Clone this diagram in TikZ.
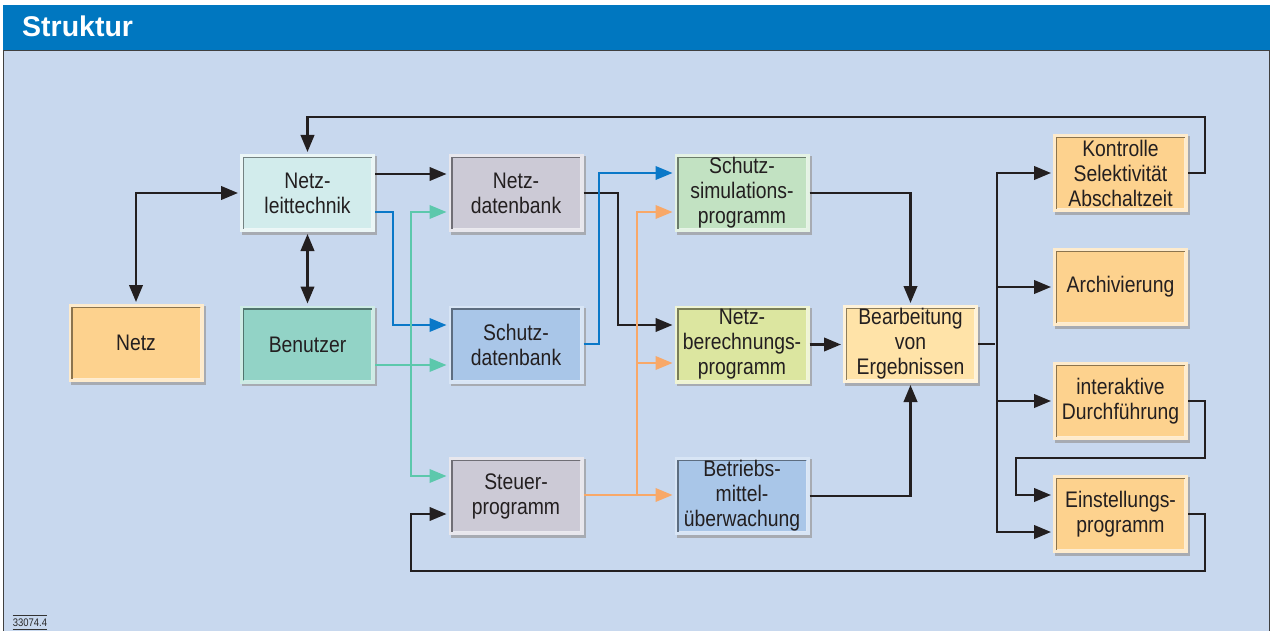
\documentclass[tikz,border=0pt]{standalone}
\usepackage{fontspec}
\setmainfont[FakeStretch=0.86]{Liberation Sans}
\newfontfamily\headfont{Liberation Sans}
\usetikzlibrary{arrows.meta,calc}
\definecolor{hdr}{HTML}{0077C0}
\definecolor{bgc}{HTML}{C8D8EE}
\definecolor{cOr}{HTML}{FDD28E}
\definecolor{cLo}{HTML}{FFE3A8}
\definecolor{cCy}{HTML}{D2ECEC}
\definecolor{cTe}{HTML}{92D3C6}
\definecolor{cGr}{HTML}{CCCAD6}
\definecolor{cBl}{HTML}{A9C6E8}
\definecolor{cGn}{HTML}{C2E2C2}
\definecolor{cYg}{HTML}{DCE6A0}
\definecolor{lBk}{HTML}{231F20}
\definecolor{lBl}{HTML}{0A78C8}
\definecolor{lTe}{HTML}{5CC8AC}
\definecolor{lOr}{HTML}{F8A868}
\tikzset{
  boxouter/.style={minimum width=135pt,minimum height=78pt,inner sep=0pt,outer sep=0pt},
  boxtext/.style={align=center,text=lBk,font=\fontsize{22.5}{25}\selectfont},
  conn/.style={line width=2.4pt,line join=miter,shorten >=2pt,>={Triangle[length=17pt,width=13.5pt]}},
  bk/.style={conn,draw=lBk},
  bl/.style={conn,draw=lBl,line width=2.1pt},
  tl/.style={conn,draw=lTe,line width=2.1pt},
  og/.style={conn,draw=lOr,line width=2.1pt},
}
\newcommand\bx[5]{%
  \fill[black!40,opacity=0.7] (#2-65.5,#3-37) rectangle (#2+69.5,#3+41.5);
  \node[boxouter,fill=#4!45!white] (#1) at (#2,#3) {};
  \fill[#4] ([shift={(3,3)}]#1.north west) rectangle ([shift={(-3,-3)}]#1.south east);
  \draw[#4!40!white,line width=1pt] ([shift={(3.5,-3.5)}]#1.south west) -| ([shift={(-3.5,3.5)}]#1.north east);
  \draw[#4!55!black,line width=1.2pt] ([shift={(3.5,-3.5)}]#1.south west) |- ([shift={(-3.5,3.5)}]#1.north east);
  \node[boxtext] at (#1) {#5};
}
\begin{document}
\begin{tikzpicture}[x=1pt,y=-1pt]
\useasboundingbox (0,0) rectangle (1273,631);
\fill[white] (0,0) rectangle (1273,631);
\fill[hdr] (3,5) rectangle (1270,51);
\fill[bgc] (3,51) rectangle (1270,631);
\draw[black!75,line width=1pt] (3.5,631) -- (3.5,51) -- (1269.5,51) -- (1269.5,631);
\node[anchor=base west,text=white,font=\headfont\bfseries\fontsize{28.5}{30}\selectfont,inner sep=0pt] (title) at (22,37) {Struktur};

\bx{Netz}{136}{343}{cOr}{Netz}
\bx{NLT}{307.5}{193}{cCy}{Netz-\\leittechnik}
\bx{Ben}{307.5}{344.5}{cTe}{Benutzer}
\bx{NDB}{516}{193}{cGr}{Netz-\\datenbank}
\bx{SDB}{516}{344.5}{cBl}{Schutz-\\datenbank}
\bx{STP}{516}{496}{cGr}{Steuer-\\programm}
\bx{SSP}{742}{193}{cGn}{Schutz-\\simulations-\\programm}
\bx{NBP}{742}{344.5}{cYg}{Netz-\\berechnungs-\\programm}
\bx{BMU}{742}{496}{cBl}{Betriebs-\\mittel-\\überwachung}
\bx{BvE}{910.5}{344}{cLo}{Bearbeitung\\von\\Ergebnissen}
\bx{KSA}{1120.5}{173}{cOr}{Kontrolle\\Selektivität\\Abschaltzeit}
\bx{ARC}{1120.5}{287}{cOr}{Archivierung}
\bx{IAD}{1120.5}{401}{cOr}{interaktive\\Durchführung}
\bx{EIN}{1120.5}{514}{cOr}{Einstellungs-\\programm}

% black connectors
\draw[bk,<->,shorten <=2pt] (Netz.north) |- (NLT.west);
\draw[bk,<->,shorten <=2pt] (NLT.south) -- (Ben.north);
\draw[bk,->] (NLT.east |- 0,174) -- (NDB.west |- 0,174);
\draw[bk,->] (NDB.east |- 0,193) -| (618,325) -- (NBP.west |- 0,325);
\draw[bk,->] (SSP.east) -| (BvE.north);
\draw[bk,->] (NBP.east) -- (BvE.west |- NBP.east);
\draw[bk,->] (BMU.east) -| (BvE.south);
\draw[bk] (BvE.east) -- (997,344);
\draw[bk,->] (997,344) |- (KSA.west);
\draw[bk,->] (997,344) |- (ARC.west);
\draw[bk,->] (997,344) |- (IAD.west);
\draw[bk,->] (997,344) |- (EIN.west |- 0,532);
\draw[bk,->] (KSA.east) -| (1205,117) -| (NLT.north);
\draw[bk,->] (IAD.east) -| (1205,458) -| (1016,495) -- (EIN.west |- 0,495);
\draw[bk,->] (EIN.east |- 0,514) -| (1205,571) -| (411,514) -- (STP.west |- 0,514);

% blue
\draw[bl,->] (NLT.east |- 0,212) -| (393,325) -- (SDB.west |- 0,325);
\draw[bl,->] (SDB.east |- 0,344) -| (599,173) -- (SSP.west |- 0,173);
% teal
\draw[tl,->] (Ben.east |- 0,365) -- (SDB.west |- 0,365);
\draw[tl,->] (411,365) |- (NDB.west |- 0,212);
\draw[tl,->] (411,365) |- (STP.west |- 0,476);
% orange
\draw[og,->] (STP.east |- 0,495) -- (BMU.west |- 0,495);
\draw[og,->] (637,495) |- (SSP.west |- 0,212);
\draw[og,->] (637,495) |- (NBP.west |- 0,363);

% figure number
\node[font=\fontsize{11}{12}\selectfont,text=black!85,inner sep=0pt] (num) at (30,622.5) {33074.4};
\draw[black!80,line width=0.8pt] ([yshift=3.5pt]num.north west) -- ([yshift=3.5pt]num.north east);
\draw[black!80,line width=0.8pt] ([yshift=-3pt]num.south west) -- ([yshift=-3pt]num.south east);
\end{tikzpicture}
\end{document}
